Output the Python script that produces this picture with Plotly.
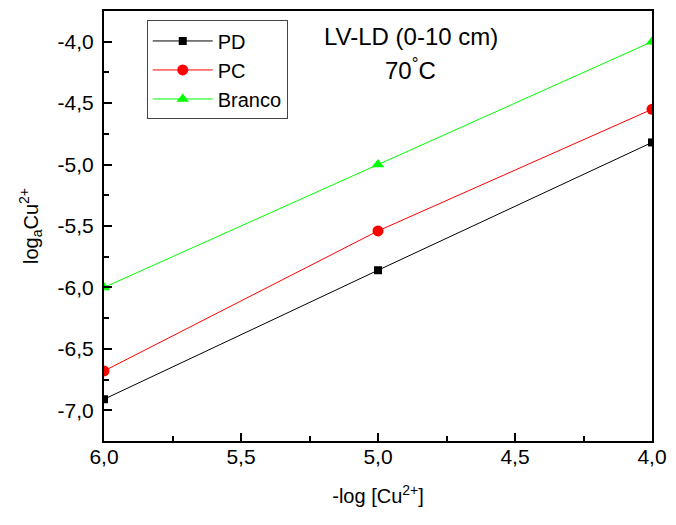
import plotly.graph_objects as go

x_vals = [6.0, 5.0, 4.0]
pd_vals = [-6.91, -5.86, -4.82]
pc_vals = [-6.68, -5.54, -4.55]
branco_vals = [-6.0, -5.0, -4.0]

x_tickvals = [6.0, 5.5, 5.0, 4.5, 4.0]
x_ticktext = ["6,0", "5,5", "5,0", "4,5", "4,0"]
y_tickvals = [-7.0, -6.5, -6.0, -5.5, -5.0, -4.5, -4.0]
y_ticktext = ["-7,0", "-6,5", "-6,0", "-5,5", "-5,0", "-4,5", "-4,0"]

FONT = "Liberation Sans, Arial, sans-serif"

fig = go.Figure()
fig.add_trace(go.Scatter(x=x_vals, y=pd_vals, name="PD", mode="lines+markers",
                         line=dict(color="black", width=1),
                         marker=dict(symbol="square", size=8, color="black")))
fig.add_trace(go.Scatter(x=x_vals, y=pc_vals, name="PC", mode="lines+markers",
                         line=dict(color="#ff0000", width=1),
                         marker=dict(symbol="circle", size=11, color="#ff0000")))
fig.add_trace(go.Scatter(x=x_vals, y=branco_vals, name="Branco", mode="lines+markers",
                         line=dict(color="#00ff00", width=1),
                         marker=dict(symbol="triangle-up", size=11, color="#00ff00")))

fig.update_layout(
    width=676, height=525,
    margin=dict(l=104, r=20, t=9, b=84),
    paper_bgcolor="white", plot_bgcolor="white",
    font=dict(family=FONT, size=20, color="black"),
    showlegend=True,
    legend=dict(x=0.078, y=0.978, xanchor="left", yanchor="top",
                bordercolor="#444", borderwidth=1, bgcolor="white",
                font=dict(size=20), tracegroupgap=0, itemwidth=60),
    xaxis=dict(range=[6.0, 4.0], tickvals=x_tickvals, ticktext=x_ticktext,
               showline=True, linecolor="black", linewidth=2, mirror=True,
               ticks="inside", ticklen=8, tickwidth=1.5, tickcolor="black",
               minor=dict(ticks="inside", ticklen=5, dtick=0.25, tickcolor="black", tickwidth=1.5),
               showgrid=False, zeroline=False, tickfont=dict(size=21),
               ticklabelstandoff=-4,
               title=dict(text="-log [Cu<sup>2+</sup>]", font=dict(size=20), standoff=22)),
    yaxis=dict(range=[-7.25, -3.75], tickvals=y_tickvals, ticktext=y_ticktext,
               showline=True, linecolor="black", linewidth=2, mirror=True,
               ticks="inside", ticklen=8, tickwidth=1.5, tickcolor="black",
               minor=dict(ticks="inside", ticklen=5, dtick=0.25, tickcolor="black", tickwidth=1.5),
               showgrid=False, zeroline=False, tickfont=dict(size=21),
               ticklabelstandoff=4,
               title=dict(text="log<sub>a</sub>Cu<sup>2+</sup>", font=dict(size=20), standoff=14)),
    annotations=[
        dict(text="LV-LD (0-10 cm)", x=0.56, y=0.94, xref="paper", yref="paper",
             showarrow=False, font=dict(size=24), xanchor="center", yanchor="middle"),
        dict(text="70<sup>°</sup>C", x=0.56, y=0.864, xref="paper", yref="paper",
             showarrow=False, font=dict(size=24), xanchor="center", yanchor="middle"),
    ],
)

fig.write_html("out.html")
